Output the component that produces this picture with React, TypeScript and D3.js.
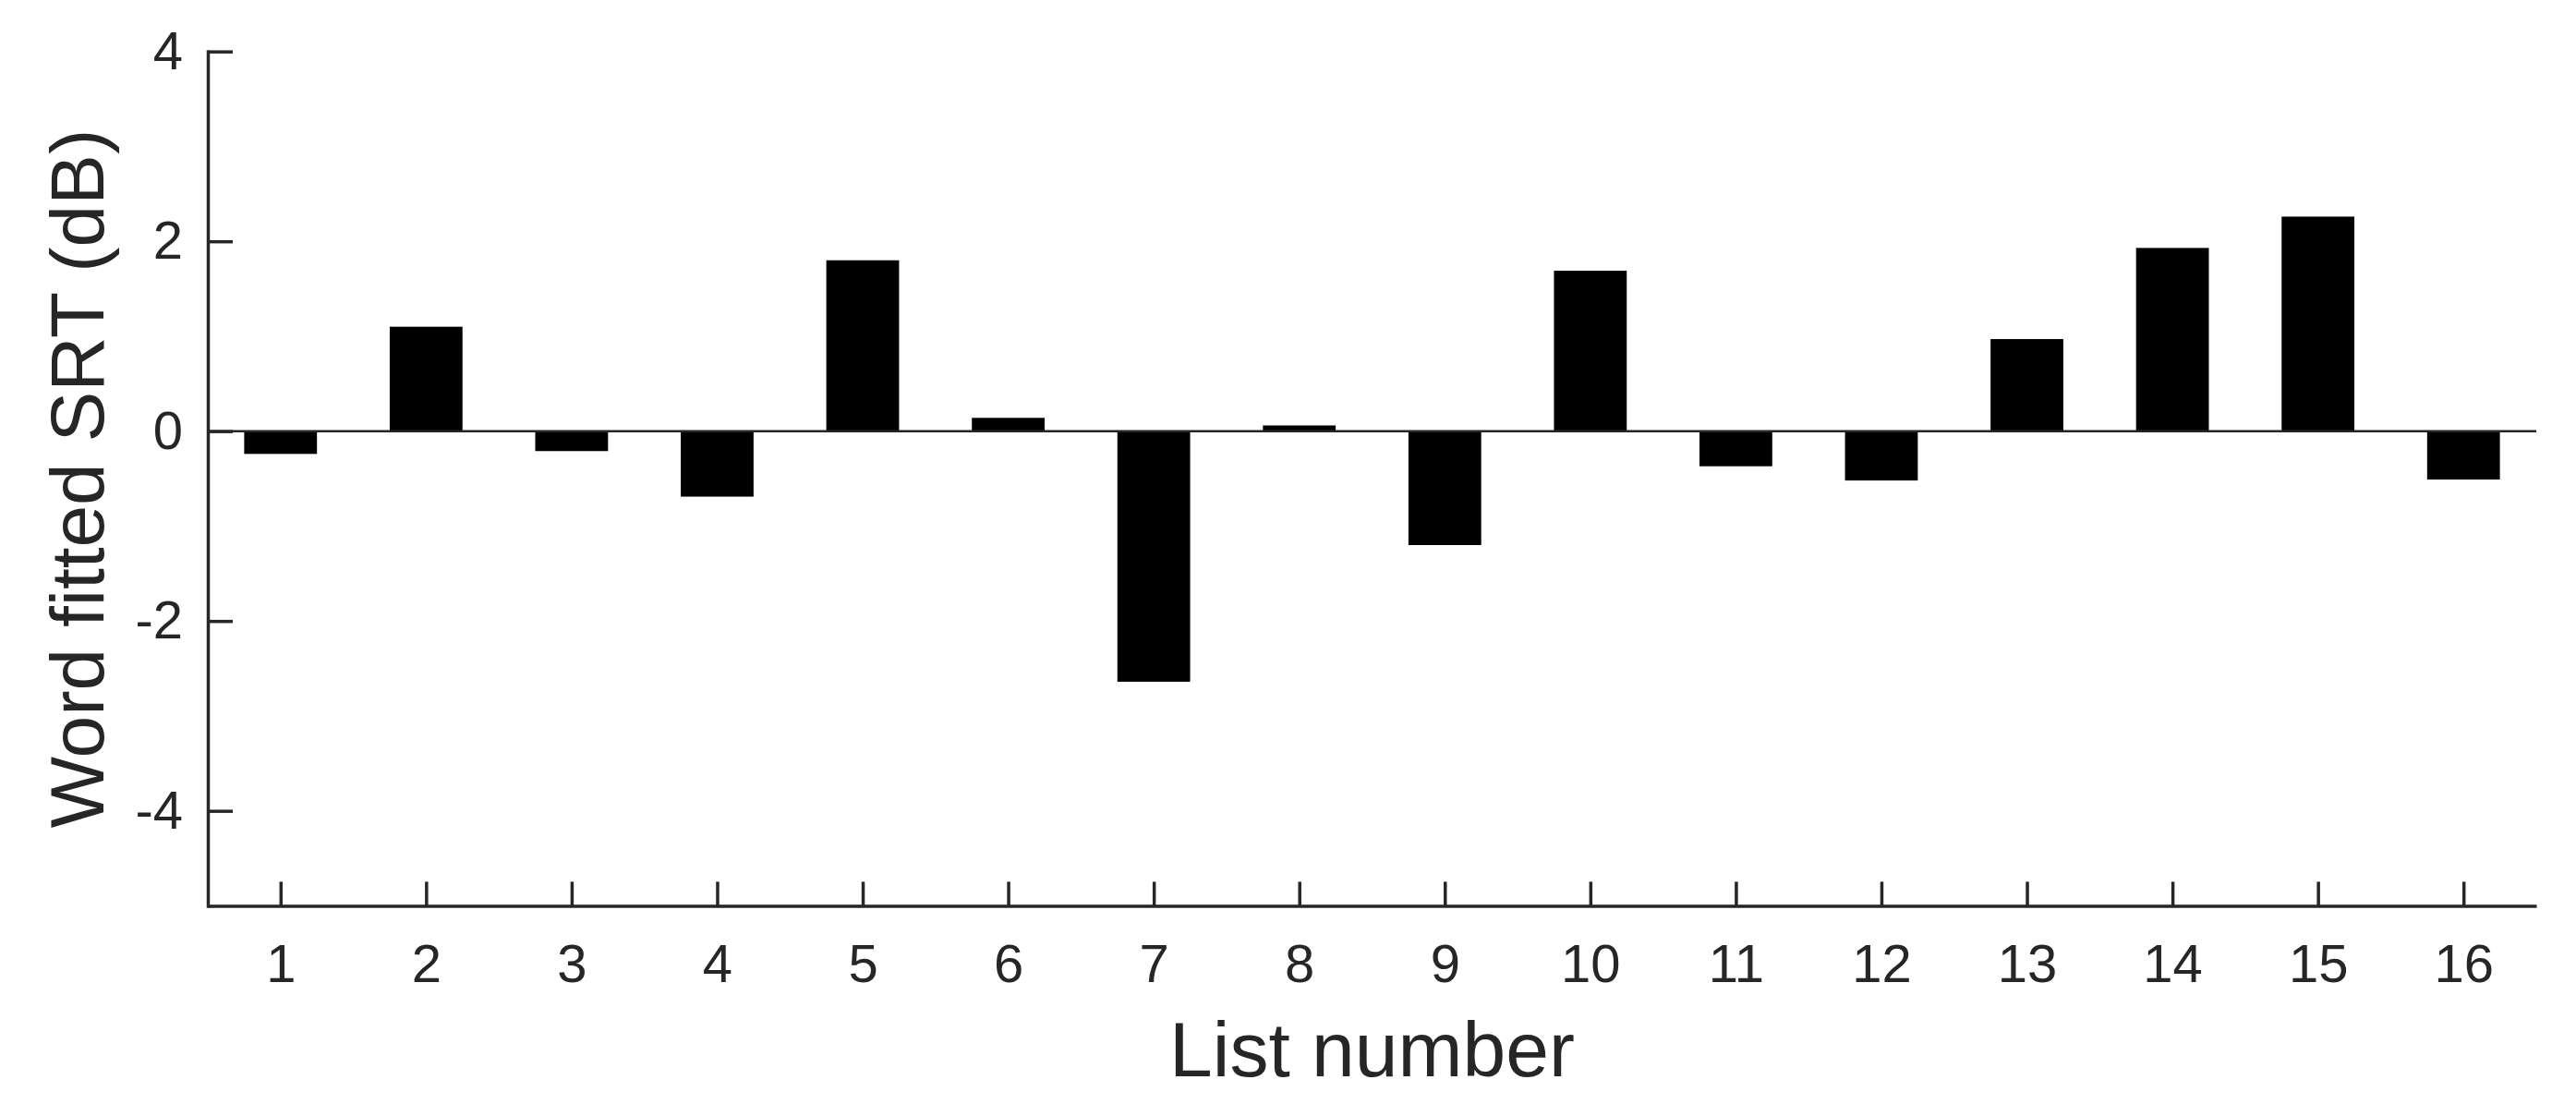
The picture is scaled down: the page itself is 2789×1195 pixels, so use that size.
import React, { useRef, useEffect } from "react";
import * as d3 from "d3";

// list numbers and word fitted SRT values (dB)
const lists = [1, 2, 3, 4, 5, 6, 7, 8, 9, 10, 11, 12, 13, 14, 15, 16];
const srt = [-0.24, 1.1, -0.21, -0.69, 1.8, 0.14, -2.64, 0.06, -1.2, 1.69, -0.37, -0.52, 0.97, 1.93, 2.26, -0.51];
const yTicks = [-4, -2, 0, 2, 4];

const W = 2789;
const H = 1195;
const INK = "#262626";
const FONT = "'Liberation Sans', Arial, Helvetica, sans-serif";

export default function App() {
    const svgRef = useRef<SVGSVGElement | null>(null);

    useEffect(() => {
        const svg = d3.select(svgRef.current);
        svg.selectAll("*").remove();

        const x = d3.scaleLinear().domain([0.5, 16.5]).range([225, 2746]);
        const y = d3.scaleLinear().domain([-5, 4]).range([980.4, 55.7]);

        // bars
        svg.append("g")
            .selectAll("rect")
            .data(lists)
            .join("rect")
            .attr("x", (d) => x(d - 0.25))
            .attr("width", (d) => x(d + 0.25) - x(d - 0.25))
            .attr("y", (d, i) => y(Math.max(0, srt[i])))
            .attr("height", (d, i) => Math.abs(y(srt[i]) - y(0)))
            .attr("fill", "#000");

        // zero baseline
        svg.append("line")
            .attr("x1", x(0.5))
            .attr("x2", x(16.5))
            .attr("y1", y(0))
            .attr("y2", y(0))
            .attr("stroke", INK)
            .attr("stroke-width", 2.5);

        // plain hyphen for negatives, like the original figure
        const fmt = (d: d3.NumberValue) => String(d);

        // x axis
        const gx = svg.append("g")
            .attr("transform", `translate(0,${y(-5)})`)
            .call(d3.axisBottom(x).tickValues(lists).tickFormat(fmt)
                .tickSizeInner(-26).tickSizeOuter(0).tickPadding(41));

        // y axis
        const gy = svg.append("g")
            .attr("transform", `translate(${x(0.5)},0)`)
            .call(d3.axisLeft(y).tickValues(yTicks).tickFormat(fmt)
                .tickSizeInner(-27).tickSizeOuter(0).tickPadding(27));

        [gx, gy].forEach((g) => {
            g.attr("font-family", FONT).attr("font-size", 58);
            g.selectAll("path, line").attr("stroke", INK).attr("stroke-width", 3.5);
            g.selectAll("text").attr("fill", INK);
        });
        gy.select(".domain").attr("stroke-linecap", "square");

        svg.append("text")
            .attr("x", (x(0.5) + x(16.5)) / 2)
            .attr("y", 1165)
            .attr("text-anchor", "middle")
            .attr("font-family", FONT)
            .attr("font-size", 84)
            .attr("fill", INK)
            .text("List number");

        svg.append("text")
            .attr("transform", `translate(112,${(y(4) + y(-5)) / 2}) rotate(-90)`)
            .attr("text-anchor", "middle")
            .attr("font-family", FONT)
            .attr("font-size", 82)
            .attr("fill", INK)
            .text("Word fitted SRT (dB)");
    }, []);

    return (
        <div>
            <svg ref={svgRef} width={W} height={H}
                style={{ position: "absolute", left: 0, top: 0, background: "#fff" }} />
        </div>
    );
}
